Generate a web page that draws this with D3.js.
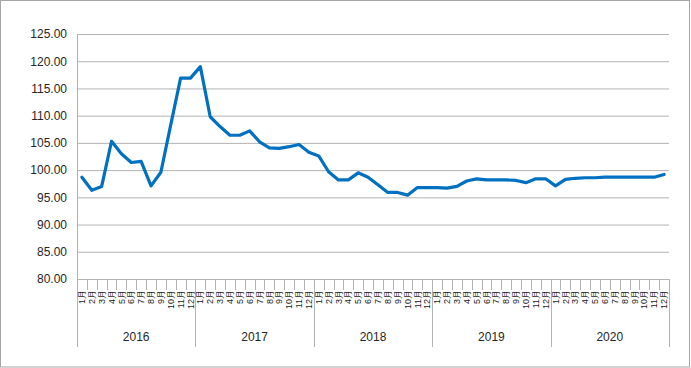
<!DOCTYPE html>
<html>
<head>
<meta charset="utf-8">
<script src="https://cdn.jsdelivr.net/npm/d3@7"></script>
<style>
  body { margin: 0; background: #fff; }
  svg { display: block; font-family: 'Liberation Sans', Arial, sans-serif; }
</style>
</head>
<body>
<svg></svg>
<script>
// chart data
const years = ['2016', '2017', '2018', '2019', '2020']
const monthLabels = ['1月', '2月', '3月', '4月', '5月', '6月', '7月', '8月', '9月', '10月', '11月', '12月']
const yTicks = [80, 85, 90, 95, 100, 105, 110, 115, 120, 125]

const v2016 = [98.7, 96.3, 97.0, 105.3, 103.0, 101.4, 101.6, 97.1, 99.6, 108.3, 116.9, 116.9]
const v2017 = [119.0, 109.8, 108.0, 106.4, 106.4, 107.2, 105.2, 104.1, 104.0, 104.3, 104.7, 103.3]
const v2018 = [102.6, 99.7, 98.2, 98.2, 99.5, 98.7, 97.3, 95.9, 95.9, 95.4, 96.8, 96.8]
const v2019 = [96.8, 96.7, 97.0, 98.0, 98.4, 98.2, 98.2, 98.2, 98.1, 97.7, 98.4, 98.4]
const v2020 = [97.1, 98.3, 98.5, 98.6, 98.6, 98.7, 98.7, 98.7, 98.7, 98.7, 98.7, 99.2]

const values = [].concat(v2016, v2017, v2018, v2019, v2020)
const data = values.map((v, i) => ({ i, year: years[Math.floor(i / 12)], month: monthLabels[i % 12], v }))

// dimensions
const w = 691
const h = 368
const plotLeft = 77
const plotRight = 669
const plotTop = 34
const plotBottom = 279
const yearBottom = 347

const svg = d3.select('svg')
  .attr('width', w)
  .attr('height', h)

// outer frame
svg.append('rect')
  .attr('x', 0.5)
  .attr('y', 0.5)
  .attr('width', w - 2)
  .attr('height', h - 1.5)
  .attr('fill', '#fff')
  .attr('stroke', '#a6a6a6')

// scales
const xScale = d3.scaleBand()
  .domain(d3.range(values.length))
  .range([plotLeft, plotRight])

const yScale = d3.scaleLinear()
  .domain([80, 125])
  .range([plotBottom, plotTop])

// y axis + gridlines
const yAxis = d3.axisLeft(yScale)
  .tickValues(yTicks)
  .tickFormat(d3.format('.2f'))
  .tickSize(-(plotRight - plotLeft))
  .tickSizeOuter(0)
  .tickPadding(10)

const gy = svg.append('g')
  .attr('transform', `translate(${plotLeft}, 0)`)
  .call(yAxis)
gy.select('.domain').remove()
gy.selectAll('.tick line').attr('stroke', '#b3b3b3')
gy.selectAll('.tick text')
  .attr('fill', '#262626')
  .style('font-size', '12px')

// left axis line, down through the category area
svg.append('line')
  .attr('x1', plotLeft + 0.5)
  .attr('x2', plotLeft + 0.5)
  .attr('y1', plotTop)
  .attr('y2', yearBottom)
  .attr('stroke', '#b3b3b3')

// month tick marks on band edges
const edges = d3.range(values.length + 1)
svg.append('g')
  .selectAll('line')
  .data(edges)
  .enter()
  .append('line')
  .attr('x1', d => Math.round(d < values.length ? xScale(d) : plotRight) + 0.5)
  .attr('x2', d => Math.round(d < values.length ? xScale(d) : plotRight) + 0.5)
  .attr('y1', plotBottom)
  .attr('y2', d => d % 12 === 0 ? yearBottom : plotBottom + 11)
  .attr('stroke', '#b3b3b3')

// month labels
const xAxis = d3.axisBottom(xScale)
  .tickSize(0)
  .tickFormat(i => monthLabels[i % 12])

const gx = svg.append('g')
  .attr('transform', `translate(0, ${plotBottom})`)
  .call(xAxis)
gx.select('.domain').remove()
gx.selectAll('.tick text')
  .attr('transform', 'translate(0, 11) rotate(-90)')
  .attr('text-anchor', 'end')
  .attr('x', 0)
  .attr('y', 0)
  .attr('dy', '0.35em')
  .attr('fill', '#1a1a1a')
  .style('font-size', '9px')

// year labels
svg.append('g')
  .selectAll('text')
  .data(years)
  .enter()
  .append('text')
  .attr('x', (d, k) => (xScale(k * 12) + xScale(k * 12 + 11) + xScale.bandwidth()) / 2)
  .attr('y', 341)
  .attr('text-anchor', 'middle')
  .attr('fill', '#262626')
  .style('font-size', '12px')
  .text(d => d)

// the line
const line = d3.line()
  .x(d => xScale(d.i) + xScale.bandwidth() / 2)
  .y(d => yScale(d.v))

svg.append('path')
  .datum(data)
  .attr('d', line)
  .attr('fill', 'none')
  .attr('stroke', '#0070c0')
  .attr('stroke-width', 3.2)
  .attr('stroke-linejoin', 'round')
  .attr('stroke-linecap', 'round')
</script>
</body>
</html>
